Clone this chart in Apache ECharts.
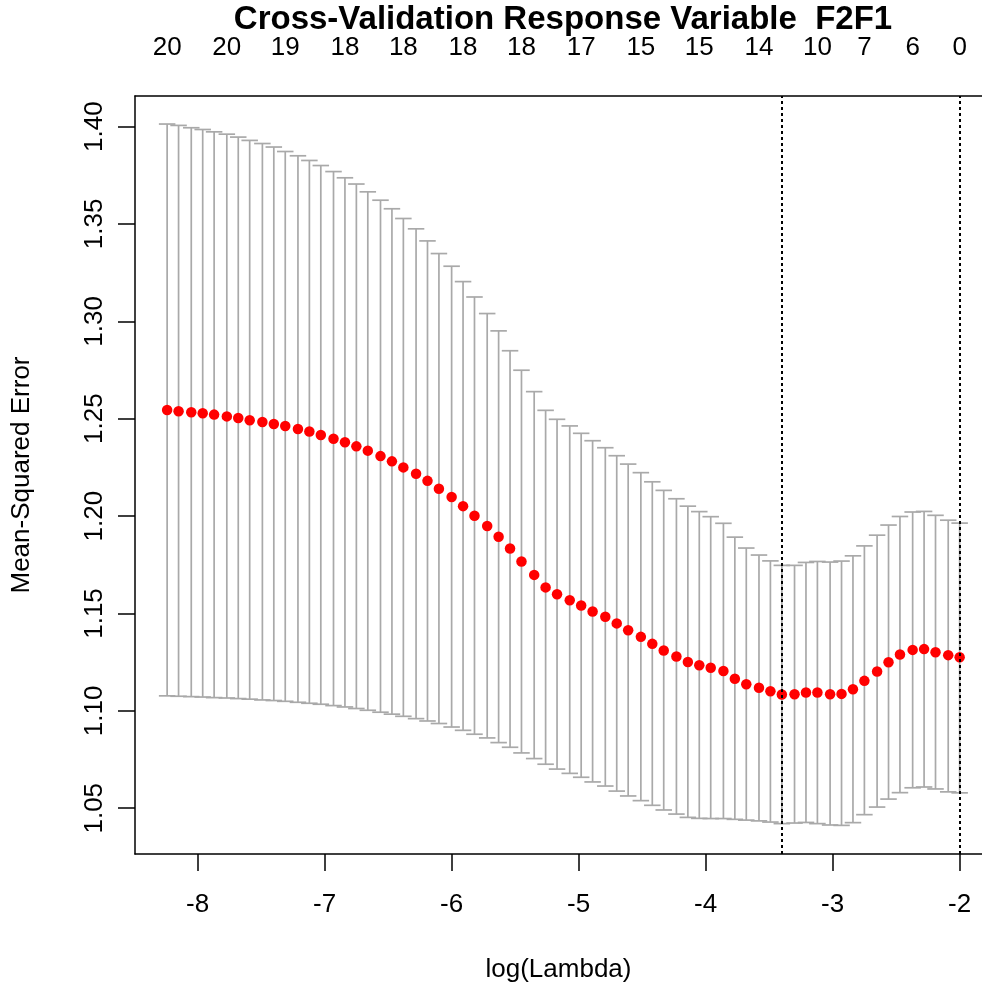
<!DOCTYPE html>
<html>
<head>
    <meta charset="UTF-8">
    <title>cv lasso F2F1</title>
    <style>body{margin:0;}</style>
</head>
<body>
    <div id="main" style="width:982px;height:988px"></div>

    <script src="https://cdn.jsdelivr.net/npm/echarts@6.0.0/dist/echarts.min.js"></script>
    <script>
        /* values */
        var logLambda = [-8.24,-8.15,-8.05,-7.96,-7.87,-7.77,-7.68,-7.59,-7.49,-7.40,
            -7.31,-7.21,-7.12,-7.03,-6.93,-6.84,-6.75,-6.66,-6.56,-6.47,
            -6.38,-6.28,-6.19,-6.10,-6.00,-5.91,-5.82,-5.72,-5.63,-5.54,
            -5.45,-5.35,-5.26,-5.17,-5.07,-4.98,-4.89,-4.79,-4.70,-4.61,
            -4.51,-4.42,-4.33,-4.23,-4.14,-4.05,-3.96,-3.86,-3.77,-3.68,
            -3.58,-3.49,-3.40,-3.30,-3.21,-3.12,-3.02,-2.93,-2.84,-2.75,
            -2.65,-2.56,-2.47,-2.37,-2.28,-2.19,-2.09,-2.00];
        var cvm = [1.2545,1.2538,1.2533,1.2528,1.2521,1.2512,1.2504,1.2492,1.2483,1.2473,
            1.2463,1.2447,1.2434,1.2416,1.2397,1.2379,1.2358,1.2336,1.2308,1.2281,
            1.2250,1.2217,1.2181,1.2140,1.2098,1.2051,1.2002,1.1949,1.1894,1.1834,
            1.1767,1.1698,1.1634,1.1599,1.1568,1.1541,1.1510,1.1483,1.1449,1.1414,
            1.1380,1.1344,1.1310,1.1279,1.1251,1.1234,1.1221,1.1205,1.1165,1.1137,
            1.1119,1.1101,1.1084,1.1085,1.1094,1.1094,1.1085,1.1087,1.1111,1.1154,
            1.1202,1.1250,1.1289,1.1313,1.1317,1.1301,1.1286,1.1275];
        var cvup = [1.4013,1.4006,1.3994,1.3985,1.3973,1.3961,1.3946,1.3929,1.3913,1.3895,
            1.3872,1.3850,1.3826,1.3800,1.3769,1.3737,1.3705,1.3665,1.3622,1.3578,
            1.3528,1.3475,1.3413,1.3348,1.3283,1.3204,1.3125,1.3040,1.2951,1.2849,
            1.2749,1.2639,1.2543,1.2497,1.2463,1.2425,1.2387,1.2351,1.2310,1.2267,
            1.2223,1.2176,1.2132,1.2089,1.2051,1.2023,1.1997,1.1963,1.1892,1.1836,
            1.1800,1.1770,1.1747,1.1747,1.1762,1.1767,1.1764,1.1769,1.1796,1.1847,
            1.1902,1.1954,1.1998,1.2021,1.2024,1.2004,1.1979,1.1964];
        var cvlo = [1.1077,1.1075,1.1073,1.1071,1.1068,1.1066,1.1063,1.1060,1.1056,1.1053,
            1.1049,1.1044,1.1039,1.1034,1.1027,1.1020,1.1012,1.1003,1.0993,1.0983,
            1.0972,1.0960,1.0948,1.0935,1.0917,1.0900,1.0880,1.0861,1.0837,1.0813,
            1.0784,1.0755,1.0726,1.0701,1.0679,1.0659,1.0635,1.0614,1.0588,1.0563,
            1.0539,1.0515,1.0491,1.0470,1.0453,1.0448,1.0447,1.0447,1.0443,1.0439,
            1.0435,1.0429,1.0421,1.0424,1.0427,1.0421,1.0414,1.0412,1.0426,1.0467,
            1.0506,1.0547,1.0580,1.0605,1.0609,1.0599,1.0584,1.0579];
        // number of nonzero coefs shown on the top axis
        var topTickAt = [-8.24,-7.77,-7.31,-6.84,-6.38,-5.91,-5.45,-4.98,-4.51,-4.05,-3.58,-3.12,-2.75,-2.37,-2.00];
        var topTickLabels = ['20','20','19','18','18','18','18','17','15','15','14','10','7','6','0'];
        var xTicks = [-8,-7,-6,-5,-4,-3,-2];
        var yTicks = [1.05,1.10,1.15,1.20,1.25,1.30,1.35,1.40];
        var lambdaMin = -3.40, lambda1se = -2.00;

        var font = 'Liberation Sans';
        var capHalf = 0.065;
        // plot region is cut off on the right in the original, so xmax stops short
        var xMin = -8.493, xMax = -1.824;

        var barData = [], pointData = [];
        for (var i = 0; i < logLambda.length; i++) {
            barData.push([logLambda[i], cvlo[i], cvup[i]]);
            pointData.push([logLambda[i], cvm[i]]);
        }

        function renderBar(params, api) {
            var x = api.value(0);
            var top = api.coord([x, api.value(2)]);
            var bot = api.coord([x, api.value(1)]);
            var hw = api.size([capHalf, 0])[0];
            var st = {stroke: '#a9a9a9', lineWidth: 1.7};
            return {
                type: 'group',
                children: [
                    {type: 'line', shape: {x1: top[0], y1: top[1], x2: bot[0], y2: bot[1]}, style: st},
                    {type: 'line', shape: {x1: top[0] - hw, y1: top[1], x2: top[0] + hw, y2: top[1]}, style: st},
                    {type: 'line', shape: {x1: bot[0] - hw, y1: bot[1], x2: bot[0] + hw, y2: bot[1]}, style: st}
                ]
            };
        }

        var boxLine = {show: true, onZero: false, lineStyle: {color: '#000', width: 1.5}};

        var app = echarts.init(document.getElementById('main'));
        option = {
            animation: false,
            backgroundColor: '#fff',
            title: {
                text: 'Cross-Validation Response Variable  F2F1',
                left: 563, top: 3, padding: 0, textAlign: 'center',
                textStyle: {fontFamily: font, fontSize: 33, fontWeight: 'bold', color: '#000'}
            },
            grid: {left: 135, right: 0, top: 96, bottom: 134},
            xAxis: [
                {
                    type: 'value', min: xMin, max: xMax,
                    name: 'log(Lambda)', nameLocation: 'middle', nameGap: 103,
                    nameTextStyle: {fontFamily: font, fontSize: 26, color: '#000'},
                    axisLine: boxLine,
                    axisTick: {show: true, length: 17, customValues: xTicks, lineStyle: {color: '#000', width: 1.5}},
                    axisLabel: {customValues: xTicks, margin: 38, fontFamily: font, fontSize: 26, color: '#000'},
                    splitLine: {show: false}
                },
                {
                    type: 'value', min: xMin, max: xMax, position: 'top',
                    axisLine: boxLine,
                    axisTick: {show: false},
                    axisLabel: {
                        customValues: topTickAt, margin: 35, fontFamily: font, fontSize: 26, color: '#000',
                        formatter: function (v) {
                            for (var k = 0; k < topTickAt.length; k++) {
                                if (Math.abs(topTickAt[k] - v) < 1e-6) return topTickLabels[k];
                            }
                            return '';
                        }
                    },
                    splitLine: {show: false}
                }
            ],
            yAxis: {
                type: 'value', min: 1.0265, max: 1.4157,
                name: 'Mean-Squared Error', nameLocation: 'middle', nameGap: 100,
                nameTextStyle: {fontFamily: font, fontSize: 26, color: '#000'},
                axisLine: boxLine,
                axisTick: {show: true, length: 17, customValues: yTicks, lineStyle: {color: '#000', width: 1.5}},
                axisLabel: {
                    customValues: yTicks, rotate: 90, margin: 27, fontFamily: font, fontSize: 26, color: '#000',
                    formatter: function (v) { return v.toFixed(2); }
                },
                splitLine: {show: false}
            },
            series: [
                {
                    name: 'bars',
                    type: 'custom',
                    renderItem: renderBar,
                    encode: {x: 0, y: [1, 2]},
                    data: barData,
                    silent: true,
                    z: 2
                },
                {
                    name: 'cvm',
                    type: 'scatter',
                    data: pointData,
                    symbolSize: 10.5,
                    itemStyle: {color: '#ff0000', opacity: 1},
                    z: 3,
                    markLine: {
                        silent: true,
                        symbol: 'none',
                        label: {show: false},
                        lineStyle: {color: '#000', width: 2, type: [3, 3]},
                        data: [{xAxis: lambdaMin}, {xAxis: lambda1se}]
                    }
                }
            ]
        };
        app.setOption(option);
    </script>
</body>
</html>
